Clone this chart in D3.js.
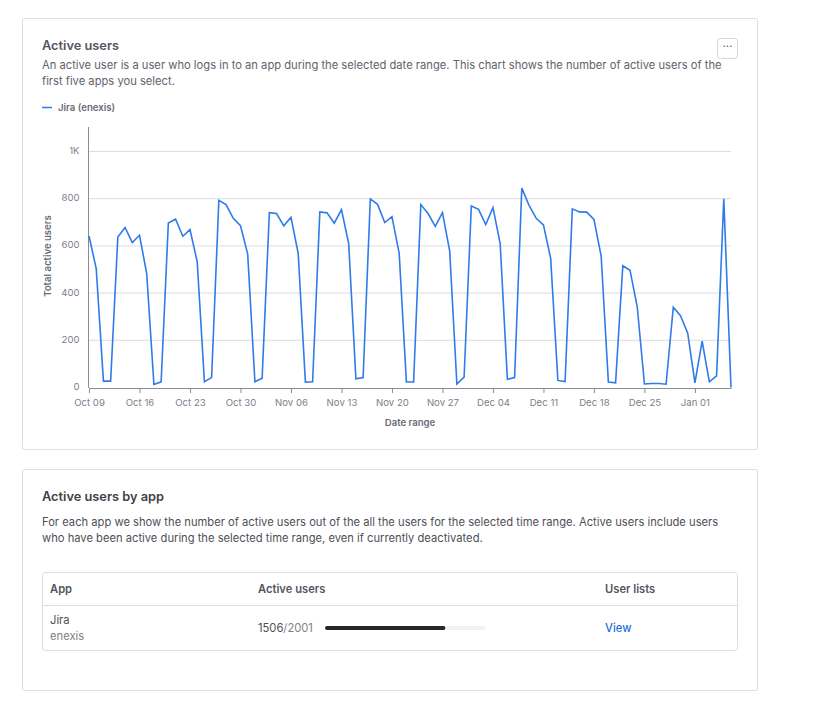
<!DOCTYPE html>
<html>
<head>
<meta charset="utf-8">
<title>Active users</title>
<script src="https://cdn.jsdelivr.net/npm/d3@7"></script>
<style>
  html, body { margin: 0; padding: 0; background: #fff; }
  svg { display: block; font-family: Inter, "Noto Sans", sans-serif; }
</style>
</head>
<body>
<svg id="page" width="820" height="727"></svg>
<script>
// valeurs, un point par jour depuis le 9 oct.
var startDay = "2023-10-09";
var activeUsers = [
  642, 504, 27, 27, 638, 678, 614, 645, 483, 13, 24, 697, 713, 641, 669, 533, 25, 42,
  793, 775, 717, 686, 565, 24, 39, 741, 737, 685, 721, 568, 23, 24, 744, 740, 696, 754,
  610, 37, 42, 799, 776, 699, 724, 568, 23, 23, 775, 737, 683, 741, 579, 15, 44, 769,
  755, 690, 762, 610, 35, 42, 845, 772, 717, 689, 547, 30, 25, 757, 744, 743, 712, 557,
  23, 20, 516, 497, 342, 15, 17, 17, 14, 340, 304, 230, 20, 196, 24, 49, 800, 0
];
var xTickDays = [0, 7, 14, 21, 28, 35, 42, 49, 56, 63, 70, 77, 84];
var yTicks = [0, 200, 400, 600, 800, 1000];
var yTickLabels = ["0", "200", "400", "600", "800", "1K"];
var chartTitle = "Active users";
var chartText = [
  "An active user is a user who logs in to an app during the selected date range. This chart shows the number of active users of the",
  "first five apps you select."
];
var legendLabel = "Jira (enexis)";
var tableTitle = "Active users by app";
var tableText = [
  "For each app we show the number of active users out of the all the users for the selected time range. Active users include users",
  "who have been active during the selected time range, even if currently deactivated."
];
var appName = "Jira";
var appSite = "enexis";
var appActive = 1506;
var appTotal = 2001;

var svg = d3.select("#page");
var DAY = 86400000;
var dayZero = new Date(startDay + "T00:00:00Z").getTime();
var dates = activeUsers.map(function(d, i) { return new Date(dayZero + i * DAY); });

var x = d3.scaleUtc().domain([dates[0], dates[dates.length - 1]]).range([89, 731]);
var y = d3.scaleLinear().domain([0, 1000]).range([387.5, 151.5]);

function addCard(top, height) {
  svg.append("rect")
    .attr("x", 22.5).attr("y", top + 0.5)
    .attr("width", 735).attr("height", height)
    .attr("rx", 2)
    .attr("fill", "#fff")
    .attr("stroke", "#dcdde0");
}

function addText(px, py, str, size, color, weight) {
  return svg.append("text")
    .attr("x", px).attr("y", py)
    .attr("font-size", size)
    .attr("fill", color)
    .attr("font-weight", weight || 400)
    .text(str);
}

addCard(18, 431);
addCard(469, 221);

// haut de la carte
addText(42, 50, chartTitle, 12.8, "#55555f", 600);
chartText.forEach(function(line, i) {
  addText(42, 69 + i * 16, line, 11.2, "#62626c");
});

// bouton menu
svg.append("rect")
  .attr("x", 717.5).attr("y", 38.5)
  .attr("width", 20).attr("height", 20)
  .attr("rx", 3)
  .attr("fill", "#fff")
  .attr("stroke", "#d5d6da");
addText(727.5, 50, "···", 11, "#6a6a74", 500).attr("text-anchor", "middle");

// légende
svg.append("line")
  .attr("x1", 42).attr("x2", 52)
  .attr("y1", 107.5).attr("y2", 107.5)
  .attr("stroke", "#2f7bea")
  .attr("stroke-width", 1.5);
addText(58, 111, legendLabel, 9.6, "#6a6a74", 600);

// grille
svg.append("g").selectAll("line")
  .data(yTicks.slice(1))
  .join("line")
  .attr("x1", 89).attr("x2", 731)
  .attr("y1", function(d) { return y(d); })
  .attr("y2", function(d) { return y(d); })
  .attr("stroke", "#dcdde0");

// axes
var yAxis = svg.append("g")
  .attr("transform", "translate(88.5,-1)")
  .call(d3.axisLeft(y)
    .tickValues(yTicks)
    .tickSize(0)
    .tickPadding(9)
    .tickFormat(function(d, i) { return yTickLabels[i]; }))
  .attr("font-family", null);
yAxis.select(".domain").remove();
yAxis.selectAll("text").attr("font-size", 9.6).attr("fill", "#808089");
svg.append("line")
  .attr("x1", 88.5).attr("x2", 88.5)
  .attr("y1", 127).attr("y2", 388)
  .attr("stroke", "#8a8b95");

var xAxis = svg.append("g")
  .attr("transform", "translate(0,388)")
  .call(d3.axisBottom(x)
    .tickValues(xTickDays.map(function(n) { return dates[n]; }))
    .tickSize(5)
    .tickPadding(6)
    .tickSizeOuter(0)
    .tickFormat(d3.utcFormat("%b %d")))
  .attr("font-family", null);
xAxis.select(".domain").attr("stroke", "#8a8b95");
xAxis.selectAll(".tick line").attr("stroke", "#8a8b95");
xAxis.selectAll("text").attr("font-size", 9.6).attr("fill", "#808089");

addText(410, 426, "Date range", 9.6, "#6a6a74", 600).attr("text-anchor", "middle");
addText(0, 0, "Total active users", 9.6, "#6a6a74", 600)
  .attr("text-anchor", "middle")
  .attr("transform", "translate(50.5,256) rotate(-90)");

// courbe
var line = d3.line()
  .x(function(d, i) { return x(dates[i]); })
  .y(function(d) { return y(d); });
svg.append("path")
  .datum(activeUsers)
  .attr("d", line)
  .attr("fill", "none")
  .attr("stroke", "#2f7bea")
  .attr("stroke-width", 1.6)
  .attr("stroke-linejoin", "miter");

// deuxième carte
addText(42, 501, tableTitle, 12.8, "#3f3f47", 600);
tableText.forEach(function(line, i) {
  addText(42, 526 + i * 16, line, 11.2, "#4f4f58");
});

svg.append("rect")
  .attr("x", 42.5).attr("y", 572.5)
  .attr("width", 695).attr("height", 78)
  .attr("rx", 3)
  .attr("fill", "none")
  .attr("stroke", "#dcdde0");
svg.append("line")
  .attr("x1", 42.5).attr("x2", 737.5)
  .attr("y1", 605.5).attr("y2", 605.5)
  .attr("stroke", "#dcdde0");

addText(50, 593, "App", 11.2, "#55555f", 600);
addText(258, 593, "Active users", 11.2, "#55555f", 600);
addText(605, 593, "User lists", 11.2, "#55555f", 600);

addText(50, 624, appName, 11.2, "#4f4f58");
addText(50, 640, appSite, 11.2, "#808089");

var countText = addText(258, 632, "", 11.2, "#4f4f58");
countText.append("tspan").text(appActive);
countText.append("tspan").attr("fill", "#808089").text("/" + appTotal);

// barre de progression
var bar = d3.scaleLinear().domain([0, appTotal]).range([0, 160]);
svg.append("rect")
  .attr("x", 325).attr("y", 626)
  .attr("width", bar(appTotal)).attr("height", 4)
  .attr("rx", 2)
  .attr("fill", "#f1f2f4");
svg.append("rect")
  .attr("x", 325).attr("y", 626)
  .attr("width", bar(appActive)).attr("height", 4)
  .attr("rx", 2)
  .attr("fill", "#26272b");

addText(605, 632, "View", 11.2, "#1f6fe0", 500);
</script>
</body>
</html>
